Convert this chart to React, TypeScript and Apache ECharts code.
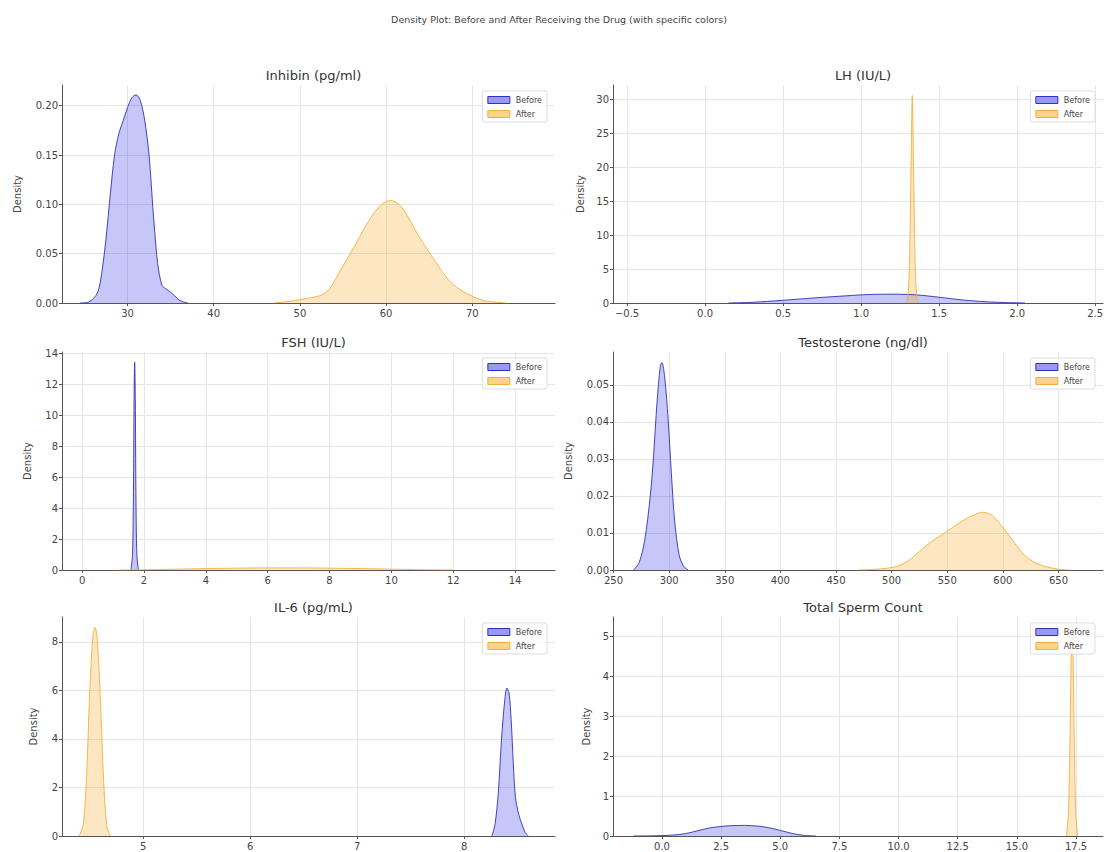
import React, { useEffect, useRef } from "react";
import * as echarts from "echarts";

// ---------- data ----------
const panelTitles = ["Inhibin (pg/ml)", "LH (IU/L)", "FSH (IU/L)", "Testosterone (ng/dl)", "IL-6 (pg/mL)", "Total Sperm Count"];
const seriesNames = ["Before", "After"];

const inhibinBeforeX = [24.5, 25.5, 26.5, 27, 27.5, 28, 28.5, 29, 29.5, 30, 30.5, 31, 31.5, 32, 32.5, 33, 33.5, 34, 34.5, 35, 35.5, 36, 36.5, 37];
const inhibinBeforeY = [0, 0.001, 0.01, 0.03, 0.065, 0.11, 0.15, 0.172, 0.185, 0.198, 0.208, 0.211, 0.205, 0.185, 0.15, 0.09, 0.04, 0.018, 0.014, 0.011, 0.007, 0.003, 0.001, 0];
const inhibinAfterX = [47, 49, 51, 52.5, 53.5, 54.5, 55.5, 56.5, 57.5, 58.5, 59.5, 60.5, 61.5, 62.5, 63.5, 64.5, 65.5, 66.5, 67.5, 68.5, 69.5, 70.5, 71.5, 72.5, 74];
const inhibinAfterY = [0, 0.002, 0.005, 0.008, 0.015, 0.03, 0.045, 0.06, 0.076, 0.09, 0.1, 0.104, 0.1, 0.088, 0.072, 0.058, 0.045, 0.032, 0.021, 0.014, 0.009, 0.005, 0.002, 0.001, 0];

const lhBeforeX = [0.15, 0.3, 0.5, 0.7, 0.9, 1.05, 1.2, 1.35, 1.5, 1.65, 1.8, 1.95, 2.05];
const lhBeforeY = [0, 0.1, 0.4, 0.75, 1.05, 1.25, 1.3, 1.2, 0.85, 0.45, 0.18, 0.05, 0];
const lhAfterX = [1.29, 1.3, 1.31, 1.32, 1.328, 1.336, 1.346, 1.356, 1.366];
const lhAfterY = [0, 1, 6, 20, 30.5, 20, 6, 1, 0];

const fshBeforeX = [1.58, 1.63, 1.66, 1.68, 1.7, 1.72, 1.74, 1.77, 1.82];
const fshBeforeY = [0, 1, 5, 11, 13.4, 11, 5, 1, 0];
const fshAfterX = [1.2, 2, 3, 4, 5, 6, 7, 8, 9, 10, 11, 12];
const fshAfterY = [0, 0.015, 0.05, 0.09, 0.12, 0.135, 0.135, 0.12, 0.09, 0.055, 0.02, 0];

const testBeforeX = [268, 273, 278, 283, 286, 289, 292, 293.5, 296, 299, 302, 305, 309, 313, 317];
const testBeforeY = [0, 0.002, 0.008, 0.02, 0.031, 0.045, 0.055, 0.056, 0.052, 0.041, 0.026, 0.013, 0.004, 0.001, 0];
const testAfterX = [470, 490, 505, 515, 525, 535, 545, 555, 565, 575, 582, 590, 600, 610, 620, 630, 640, 650, 660];
const testAfterY = [0, 0.0003, 0.001, 0.0025, 0.005, 0.0075, 0.0095, 0.0115, 0.0135, 0.015, 0.0156, 0.0148, 0.0115, 0.0075, 0.0038, 0.0018, 0.0008, 0.0002, 0];

const il6BeforeX = [8.26, 8.29, 8.32, 8.35, 8.38, 8.4, 8.42, 8.44, 8.46, 8.48, 8.51, 8.54, 8.57, 8.6];
const il6BeforeY = [0, 0.5, 1.8, 4, 5.6, 6.1, 5.9, 4.8, 3, 1.6, 0.9, 0.5, 0.15, 0];
const il6AfterX = [4.4, 4.44, 4.47, 4.5, 4.53, 4.55, 4.57, 4.6, 4.63, 4.66, 4.69];
const il6AfterY = [0, 0.5, 2.5, 6, 8.3, 8.6, 8.1, 5.5, 2.2, 0.4, 0];

const spermBeforeX = [-1.2, -0.5, 0, 0.5, 1, 1.5, 2, 2.5, 3, 3.5, 4, 4.5, 5, 5.5, 6, 6.5];
const spermBeforeY = [0, 0.003, 0.01, 0.025, 0.06, 0.13, 0.2, 0.24, 0.26, 0.265, 0.25, 0.21, 0.14, 0.065, 0.015, 0];
const spermAfterX = [17.1, 17.18, 17.24, 17.29, 17.33, 17.37, 17.42, 17.48, 17.56];
const spermAfterY = [0, 0.6, 2.2, 4.3, 5.2, 4.6, 2.6, 0.7, 0];

// tick labels / axis ranges
const inhibinXTicks = [30, 40, 50, 60, 70];
const inhibinYTicks = [0, 0.05, 0.1, 0.15, 0.2];
const lhXTicks = [-0.5, 0, 0.5, 1, 1.5, 2, 2.5];
const lhYTicks = [0, 5, 10, 15, 20, 25, 30];
const fshXTicks = [0, 2, 4, 6, 8, 10, 12, 14];
const fshYTicks = [0, 2, 4, 6, 8, 10, 12, 14];
const testXTicks = [250, 300, 350, 400, 450, 500, 550, 600, 650];
const testYTicks = [0, 0.01, 0.02, 0.03, 0.04, 0.05];
const il6XTicks = [5, 6, 7, 8];
const il6YTicks = [0, 2, 4, 6, 8];
const spermXTicks = [0, 2.5, 5, 7.5, 10, 12.5, 15, 17.5];
const spermYTicks = [0, 1, 2, 3, 4, 5];

const xRanges = [[22.4, 79.6], [-0.59, 2.55], [-0.65, 15.29], [249.5, 690], [4.24, 8.85], [-2.07, 18.64]];
const yMaxes = [0.221, 32.06, 14.07, 0.0589, 9.03, 5.48];

// ---------- layout / style ----------
const FONT = "DejaVu Sans, sans-serif";
const BLUE_FILL = "rgba(60, 60, 235, 0.42)";
const BLUE_LINE = "rgba(40, 40, 170, 0.85)";
const ORANGE_FILL = "rgba(250, 180, 60, 0.45)";
const ORANGE_LINE = "rgba(245, 175, 60, 0.9)";

const gridRects = [
  { left: 62, top: 85, width: 493, height: 218 },
  { left: 613, top: 85, width: 490, height: 218 },
  { left: 62, top: 352, width: 493, height: 218 },
  { left: 613, top: 352, width: 490, height: 218 },
  { left: 62, top: 617, width: 493, height: 219 },
  { left: 613, top: 617, width: 490, height: 219 },
];
const nameGaps = [40, 28, 30, 40, 24, 22];

const minus = (s: string) => s.replace("-", "\u2212");
const fmt2 = (v: number) => minus(v.toFixed(2));
const fmt1 = (v: number) => minus(v.toFixed(1));
const fmt0 = (v: number) => minus(String(Math.round(v)));

const panels = [
  { before: [inhibinBeforeX, inhibinBeforeY], after: [inhibinAfterX, inhibinAfterY], xt: inhibinXTicks, yt: inhibinYTicks, xf: fmt0, yf: fmt2 },
  { before: [lhBeforeX, lhBeforeY], after: [lhAfterX, lhAfterY], xt: lhXTicks, yt: lhYTicks, xf: fmt1, yf: fmt0 },
  { before: [fshBeforeX, fshBeforeY], after: [fshAfterX, fshAfterY], xt: fshXTicks, yt: fshYTicks, xf: fmt0, yf: fmt0 },
  { before: [testBeforeX, testBeforeY], after: [testAfterX, testAfterY], xt: testXTicks, yt: testYTicks, xf: fmt0, yf: fmt2 },
  { before: [il6BeforeX, il6BeforeY], after: [il6AfterX, il6AfterY], xt: il6XTicks, yt: il6YTicks, xf: fmt0, yf: fmt0 },
  { before: [spermBeforeX, spermBeforeY], after: [spermAfterX, spermAfterY], xt: spermXTicks, yt: spermYTicks, xf: fmt1, yf: fmt0 },
];

const zip = (xs: number[], ys: number[]) => xs.map((x, i) => [x, ys[i]]);

function buildOption() {
  const grid: any[] = [];
  const xAxis: any[] = [];
  const yAxis: any[] = [];
  const series: any[] = [];
  const legend: any[] = [];
  const title: any[] = [
    {
      text: "Density Plot: Before and After Receiving the Drug (with specific colors)",
      left: 554,
      textAlign: "center",
      top: 9,
      textStyle: { fontSize: 9.5, fontWeight: "normal", color: "#444", fontFamily: FONT },
    },
  ];

  panels.forEach((p, i) => {
    const g = gridRects[i];
    grid.push({ ...g, containLabel: false });
    title.push({
      text: panelTitles[i],
      left: g.left + g.width / 2,
      textAlign: "center",
      top: g.top - 21,
      textStyle: { fontSize: 13, fontWeight: "normal", color: "#333", fontFamily: FONT },
    });
    const axisCommon = {
      axisLine: { show: true, onZero: false, lineStyle: { color: "#555", width: 1 } },
      splitLine: { show: true, lineStyle: { color: "#e6e6e6", width: 1 } },
    };
    xAxis.push({
      type: "value",
      gridIndex: i,
      min: xRanges[i][0],
      max: xRanges[i][1],
      ...axisCommon,
      axisTick: { show: true, length: 3, customValues: p.xt, lineStyle: { color: "#555" } },
      axisLabel: { customValues: p.xt, formatter: p.xf, fontSize: 10, color: "#444", margin: 5, fontFamily: FONT },
    });
    yAxis.push({
      type: "value",
      gridIndex: i,
      min: 0,
      max: yMaxes[i],
      name: "Density",
      nameLocation: "middle",
      nameGap: nameGaps[i],
      nameTextStyle: { fontSize: 10, color: "#444", fontFamily: FONT },
      ...axisCommon,
      axisTick: { show: true, length: 3, customValues: p.yt, lineStyle: { color: "#555" } },
      axisLabel: { customValues: p.yt, formatter: p.yf, fontSize: 10, color: "#444", margin: 4, fontFamily: FONT },
    });
    series.push({
      name: seriesNames[0],
      type: "line",
      xAxisIndex: i,
      yAxisIndex: i,
      data: zip(p.before[0], p.before[1]),
      smooth: 0.3,
      showSymbol: false,
      symbol: "none",
      lineStyle: { color: BLUE_LINE, width: 1 },
      itemStyle: { color: BLUE_FILL },
      areaStyle: { color: BLUE_FILL, origin: "start" },
      z: 2,
    });
    series.push({
      name: seriesNames[1],
      type: "line",
      xAxisIndex: i,
      yAxisIndex: i,
      data: zip(p.after[0], p.after[1]),
      smooth: 0.3,
      showSymbol: false,
      symbol: "none",
      lineStyle: { color: ORANGE_LINE, width: 1 },
      itemStyle: { color: ORANGE_FILL },
      areaStyle: { color: ORANGE_FILL, origin: "start" },
      z: 2,
    });
    const right = 1108 - (g.left + g.width) + 8;
    legend.push({
      orient: "vertical",
      right,
      top: g.top + 6,
      icon: "rect",
      itemWidth: 22,
      itemHeight: 7,
      itemGap: 6,
      padding: [5, 5, 4, 5],
      backgroundColor: "rgba(255,255,255,0.8)",
      borderColor: "#dddddd",
      borderWidth: 1,
      borderRadius: 2,
      selectedMode: false,
      z: 10,
      textStyle: { fontSize: 8, color: "#444", fontFamily: FONT, padding: [0, 0, 0, 1] },
      data: [
        { name: "Before", itemStyle: { color: "rgba(120,120,240,0.75)", borderColor: "#3030c0", borderWidth: 1 } },
        { name: "After", itemStyle: { color: "rgba(250,200,110,0.8)", borderColor: "#f0b040", borderWidth: 1 } },
      ],
    });
  });

  return { animation: false, backgroundColor: "#ffffff", title, grid, xAxis, yAxis, series, legend };
}

export default function App() {
  const ref = useRef<HTMLDivElement>(null);
  useEffect(() => {
    if (!ref.current) return;
    const chart = echarts.init(ref.current, undefined, { renderer: "svg" });
    chart.setOption(buildOption() as any);
    return () => chart.dispose();
  }, []);
  return <div ref={ref} style={{ position: "fixed", left: 0, top: 0, width: 1108, height: 852, background: "#fff" }} />;
}
